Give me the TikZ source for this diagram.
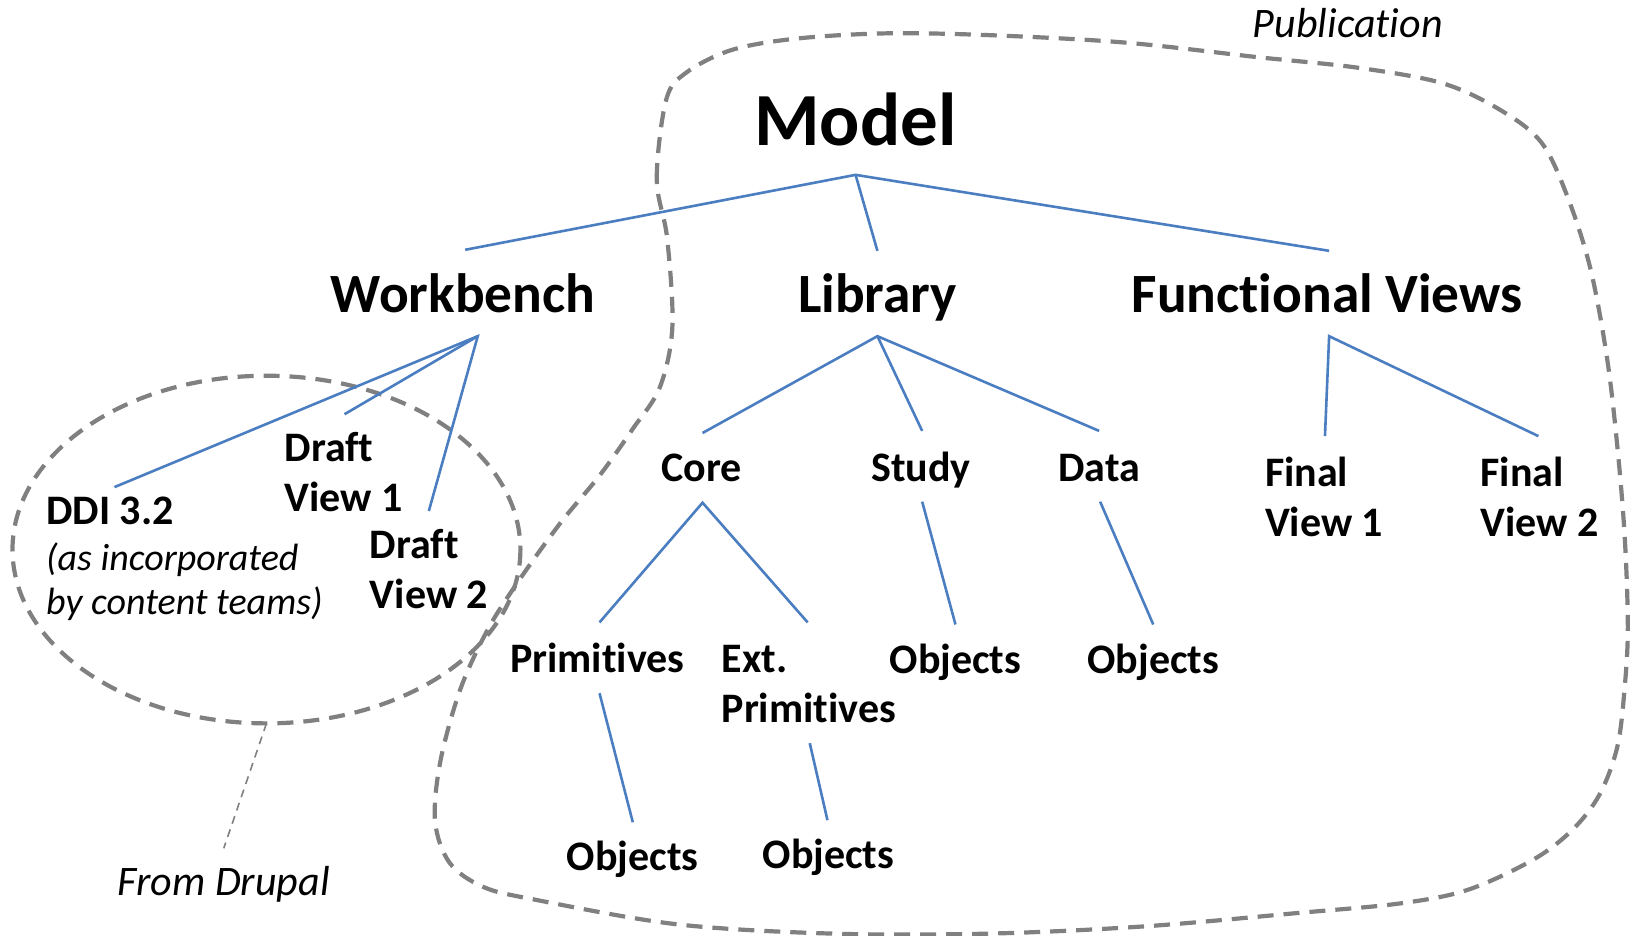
\documentclass[tikz,border=0pt]{standalone}
\usepackage{fontspec}
\setmainfont{Carlito}[Ligatures=NoCommon]
\definecolor{lineblue}{RGB}{74,126,193}
\definecolor{dashgray}{RGB}{128,128,128}
\begin{document}
\begin{tikzpicture}[x=0.5204pt,y=-0.5204pt,
  big/.style={inner sep=0pt, anchor=base, font=\bfseries\fontsize{37.5}{44}\selectfont},
  mid/.style={inner sep=0pt, anchor=base, font=\bfseries\fontsize{27.7}{33}\selectfont},
  lbl/.style={inner sep=0pt, font=\bfseries\fontsize{21}{25}\selectfont, align=left},
  note/.style={inner sep=0pt, font=\itshape\fontsize{21}{25}\selectfont},
  ddinote/.style={inner sep=0pt, font=\itshape\fontsize{19}{22}\selectfont, align=left},
  tree/.style={draw=lineblue, line width=1.3pt},
  region/.style={draw=dashgray, line width=2.1pt, dash pattern=on 8pt off 5pt},
  pointer/.style={draw=dashgray, line width=0.8pt, dash pattern=on 4pt off 3pt}]
\useasboundingbox (0,0) rectangle (1568,899);

% regions
\draw[region] plot[smooth cycle, tension=0.55] coordinates {
 (641,229) (631,172) (640,96) (659,70) (703,48) (766,37) (854,32) (956,34)
 (1082,41) (1209,55) (1304,65) (1386,80) (1442,106) (1481,137) (1506,189)
 (1528,258) (1544,344) (1554,430) (1561,516) (1564,602) (1561,660) (1554,717)
 (1537,763) (1511,797) (1473,826) (1410,855) (1345,868) (1249,877) (1100,890)
 (950,897) (800,897) (650,888) (512,864) (464,852) (432,829) (418,789)
 (423,732) (442,663) (468,606) (497,560) (538,503) (576,457) (608,412)
 (634,372) (646,314)};
\draw[region] (256,528) ellipse [x radius=244, y radius=167];
\coordinate (ell-s) at (256,695);
\coordinate (drupal-n) at (215,815);
\draw[pointer] (ell-s) -- (drupal-n);

% text nodes (multi-line nodes are placed by the baseline of their last line)
\node[big] (model) at (822,140) {Model};
\node[mid] (wb) at (445,300) {Workbench};
\node[mid] (lib) at (843,300) {Library};
\node[mid] (fv) at (1275,300) {Functional Views};
\node[lbl, anchor=base west] (ddi) at (44,504) {DDI 3.2};
\node[ddinote, anchor=base west] (ddinote) at (44,590) {(as incorporated\\by content teams)};
\node[lbl, anchor=base west] (dv1) at (273,491) {Draft\\View 1};
\node[lbl, anchor=base west] (dv2) at (355,585) {Draft\\View 2};
\node[lbl, anchor=base] (core) at (674,463) {Core};
\node[lbl, anchor=base] (study) at (885,463) {Study};
\node[lbl, anchor=base] (data) at (1056,463) {Data};
\node[lbl, anchor=base west] (fv1) at (1215,515) {Final\\View 1};
\node[lbl, anchor=base west] (fv2) at (1422,515) {Final\\View 2};
\node[lbl, anchor=base] (prim) at (574,646) {Primitives};
\node[lbl, anchor=base west] (ext) at (693,694) {Ext.\\Primitives};
\node[lbl, anchor=base] (objs) at (918,647) {Objects};
\node[lbl, anchor=base] (objd) at (1108,647) {Objects};
\node[lbl, anchor=base] (objp) at (608,836) {Objects};
\node[lbl, anchor=base] (obje) at (796,834) {Objects};
\node[note, anchor=base] (drupal) at (215,860) {From Drupal};
\node[note, anchor=base] (pub) at (1295,36) {Publication};

% connector end points
\coordinate (model-s) at (822,168);
\coordinate (wb-n) at (447,240);
\coordinate (lib-n) at (843,241);
\coordinate (fv-n) at (1277,241);
\coordinate (wb-s) at (459,323);
\coordinate (ddi-n) at (110,468);
\coordinate (dv1-n) at (331,398);
\coordinate (dv2-n) at (412,491);
\coordinate (lib-s) at (843,323);
\coordinate (core-n) at (675,416);
\coordinate (study-n) at (886,414);
\coordinate (data-n) at (1056,414);
\coordinate (fv-s) at (1277,323);
\coordinate (fv1-n) at (1273,419);
\coordinate (fv2-n) at (1478,419);
\coordinate (core-s) at (675,483);
\coordinate (prim-n) at (576,598);
\coordinate (ext-n) at (776,598);
\coordinate (study-s) at (886,482);
\coordinate (objs-n) at (918,600);
\coordinate (data-s) at (1057,482);
\coordinate (objd-n) at (1108,600);
\coordinate (prim-s) at (576,666);
\coordinate (objp-n) at (608,790);
\coordinate (ext-s) at (778,714);
\coordinate (obje-n) at (795,788);

% tree connectors
\draw[tree] (wb-n) -- (model-s) -- (fv-n);
\draw[tree] (model-s) -- (lib-n);
\draw[tree] (ddi-n) -- (wb-s) -- (dv2-n);
\draw[tree] (wb-s) -- (dv1-n);
\draw[tree] (core-n) -- (lib-s) -- (data-n);
\draw[tree] (lib-s) -- (study-n);
\draw[tree] (fv1-n) -- (fv-s) -- (fv2-n);
\draw[tree] (prim-n) -- (core-s) -- (ext-n);
\draw[tree] (study-s) -- (objs-n);
\draw[tree] (data-s) -- (objd-n);
\draw[tree] (prim-s) -- (objp-n);
\draw[tree] (ext-s) -- (obje-n);
\end{tikzpicture}
\end{document}
